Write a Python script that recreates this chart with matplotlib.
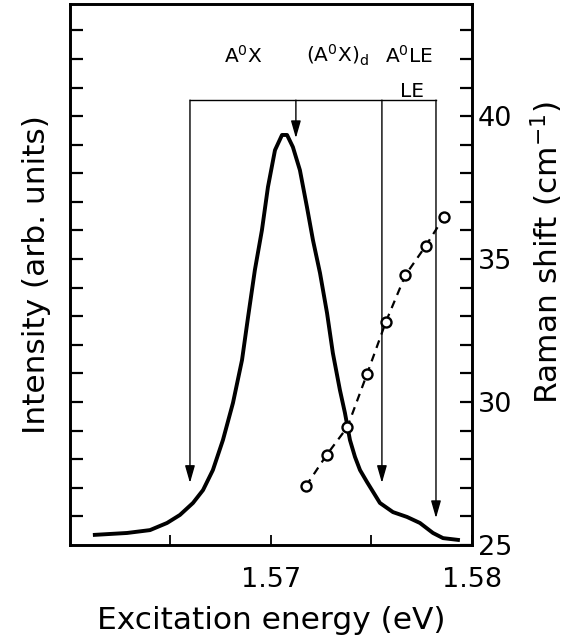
import matplotlib
matplotlib.use("Agg")
import matplotlib.pyplot as plt

plt.rcParams['font.family'] = ['DejaVu Sans']
plt.rcParams['mathtext.fontset'] = 'dejavusans'

# Intensity spectrum (excitation energy in eV, intensity in arb. units)
energy = [1.56114, 1.56284, 1.56398, 1.56483, 1.56547, 1.56612, 1.56662, 1.56711,
          1.56761, 1.56811, 1.56856, 1.56886, 1.56920, 1.56955, 1.56985, 1.57020,
          1.57055, 1.57080, 1.57109, 1.57144, 1.57179, 1.57209, 1.57244, 1.57279,
          1.57308, 1.57343, 1.57368, 1.57393, 1.57418, 1.57443, 1.57478, 1.57542,
          1.57607, 1.57677, 1.57741, 1.57806, 1.57856, 1.57940]
intensity = [0.35, 0.42, 0.52, 0.77, 1.05, 1.47, 1.92, 2.62,
             3.67, 4.97, 6.47, 7.97, 9.62, 11.01, 12.52, 13.81,
             14.34, 14.34, 13.92, 13.11, 11.82, 10.66, 9.51, 8.11,
             6.71, 5.42, 4.62, 3.67, 3.08, 2.62, 2.20, 1.47,
             1.15, 0.98, 0.77, 0.42, 0.24, 0.17]

# Raman shift points
raman_energy = [1.57174, 1.57277, 1.57380, 1.57478, 1.57572, 1.57669, 1.57769, 1.57860]
raman_shift = [27.06, 28.15, 29.12, 30.98, 32.81, 34.44, 35.45, 36.46]

# Transition markers
marker_labels = ['A$^0$X', '(A$^0$X)$_\\mathrm{d}$', 'A$^0$LE', 'LE']
marker_energy = [1.56597, 1.57124, 1.57552, 1.57821]
marker_tip = [2.17, 14.23, 2.17, 0.94]
bracket_level = 15.56

x_ticks = [1.565, 1.57, 1.575, 1.58]
x_tick_labels = ['', '1.57', '', '1.58']
r_ticks = [25, 30, 35, 40]

fig = plt.figure(figsize=(5.75, 6.38), dpi=100)
ax = fig.add_axes([0.1217, 0.1458, 0.6991, 0.8479])
ax2 = ax.twinx()

ax.plot(energy, intensity, color='black', lw=2.8, solid_joinstyle='round',
        solid_capstyle='butt', zorder=3)
ax.set_xlim(1.56, 1.58)
ax.set_ylim(0, 18.92)
ax.set_yticks(range(1, 19))
ax.set_yticklabels([])
ax.set_xticks(x_ticks)
ax.set_xticklabels(x_tick_labels)
ax.tick_params(axis='y', direction='in', length=9, width=1.6, left=True, right=False)
ax.tick_params(axis='x', direction='in', length=7, width=1.3, pad=16, labelsize=19.5, top=False)

ax2.plot(raman_energy, raman_shift, color='black', lw=1.6, ls=(0, (3.6, 2.8)),
         marker='o', ms=7.2, mfc='white', mec='black', mew=1.7, zorder=4)
ax2.set_ylim(25, 43.92)
ax2.set_yticks(r_ticks)
ax2.set_yticks(range(26, 44), minor=True)
ax2.tick_params(axis='y', which='both', direction='in', length=9, width=1.6, pad=4, labelsize=19.5)

for sp in ax.spines.values():
    sp.set_linewidth(1.9)
for sp in ax2.spines.values():
    sp.set_linewidth(1.9)

# bracket and arrows
ax.plot([marker_energy[0], marker_energy[-1]], [bracket_level, bracket_level],
        color='black', lw=1.0)
for e, tip in zip(marker_energy, marker_tip):
    ax.annotate('', xy=(e, tip), xytext=(e, bracket_level),
                arrowprops=dict(arrowstyle='-|>,head_length=0.7,head_width=0.2',
                                color='black', lw=1.0, shrinkA=0, shrinkB=0,
                                mutation_scale=15))

label_pos = [(1.56864, 17.12), (1.57331, 17.12), (1.57687, 17.12), (1.57704, 15.86)]
for lab, (lx, ly) in zip(marker_labels, label_pos):
    ax.text(lx, ly, lab, ha='center', va='center', fontsize=14.5)

ax.set_xlabel('Excitation energy (eV)', fontsize=22.5, labelpad=9)
ax.set_ylabel('Intensity (arb. units)', fontsize=22.5, labelpad=10)
ax2.set_ylabel('Raman shift (cm$^{-1}$)', fontsize=22.5, labelpad=16)
ax2.yaxis.set_label_coords(1.14, 0.54)

fig.savefig('out.png', dpi=100)
